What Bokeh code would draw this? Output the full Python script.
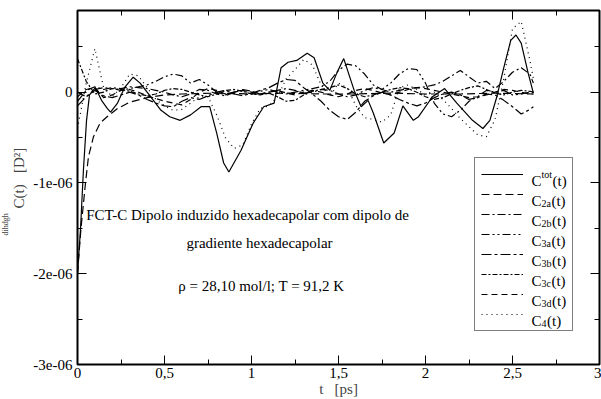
import numpy as np
from bokeh.plotting import figure
from bokeh.models import (Range1d, FixedTicker, LinearAxis, CustomJSTickFormatter,
                          Label, Legend, LegendItem, Title)
from bokeh.embed import file_html
from bokeh.resources import INLINE

# ---------------- data (values in units of 1e-6 D^2) ----------------
t_tot = [0.000, 0.017, 0.034, 0.052, 0.069, 0.103, 0.138, 0.172, 0.190, 0.230,
         0.270, 0.320, 0.360, 0.400, 0.480, 0.530, 0.590, 0.650, 0.710, 0.760,
         0.800, 0.840, 0.870, 0.940, 1.010, 1.070, 1.130, 1.170, 1.210, 1.260,
         1.320, 1.360, 1.410, 1.450, 1.490, 1.530, 1.590, 1.630, 1.670, 1.700,
         1.760, 1.820, 1.870, 1.930, 1.960, 2.040, 2.110, 2.180, 2.270, 2.330,
         2.370, 2.410, 2.450, 2.490, 2.520, 2.550, 2.590, 2.620]
c_tot = [-1.99, -1.52, -0.86, -0.31, -0.03, 0.05, -0.09, -0.18, -0.22, -0.12,
         0.05, 0.165, 0.10, 0.00, -0.20, -0.27, -0.31, -0.25, -0.16, -0.16,
         -0.45, -0.78, -0.88, -0.64, -0.34, -0.16, -0.12, 0.27, 0.33, 0.35,
         0.43, 0.38, 0.10, 0.02, 0.21, 0.37, 0.02, -0.16, -0.09, -0.23,
         -0.56, -0.45, -0.15, -0.31, -0.27, -0.05, 0.04, -0.12, -0.31, -0.40,
         -0.31, -0.05, 0.27, 0.57, 0.63, 0.54, 0.21, -0.01]

t_2a = [0.000, 0.020, 0.046, 0.063, 0.092, 0.130, 0.170, 0.230, 0.300, 0.400,
        0.500, 0.600, 0.800, 1.000, 1.200, 1.400, 1.600, 1.800, 2.000, 2.200,
        2.400, 2.620]
c_2a = [-2.00, -1.50, -1.00, -0.71, -0.49, -0.34, -0.27, -0.18, -0.11, -0.06,
        -0.03, -0.02, -0.01, -0.02, -0.01, -0.02, -0.02, -0.01, -0.02, -0.02,
        -0.01, -0.02]

t_grid = [0.00, 0.05, 0.10, 0.15, 0.20, 0.25, 0.30, 0.35, 0.40, 0.45,
          0.50, 0.55, 0.60, 0.65, 0.70, 0.75, 0.80, 0.85, 0.90, 0.95,
          1.00, 1.05, 1.10, 1.15, 1.20, 1.25, 1.30, 1.35, 1.40, 1.45,
          1.50, 1.55, 1.60, 1.65, 1.70, 1.75, 1.80, 1.85, 1.90, 1.95,
          2.00, 2.05, 2.10, 2.15, 2.20, 2.25, 2.30, 2.35, 2.40, 2.45,
          2.50, 2.55, 2.60, 2.62]
c_2b = [-0.10, 0.02, 0.06, 0.03, 0.05, 0.04, 0.06, 0.05, 0.04, 0.02,
        0.00, -0.03, -0.05, -0.02, 0.03, 0.02, -0.02, -0.04, 0.00, 0.03,
        0.01, -0.02, 0.00, 0.02, 0.04, 0.02, -0.01, 0.00, 0.03, 0.02,
        -0.02, -0.05, -0.03, 0.02, 0.05, 0.03, 0.00, 0.02, 0.04, 0.05,
        0.06, 0.08, 0.12, 0.18, 0.24, 0.17, 0.10, 0.12, 0.04, 0.12,
        0.22, 0.27, 0.20, 0.10]
c_3a = [0.00, -0.05, 0.03, 0.05, 0.04, 0.02, 0.04, 0.06, 0.08, 0.12,
        0.17, 0.20, 0.18, 0.10, 0.14, 0.08, 0.00, -0.03, 0.00, 0.02,
        -0.02, 0.01, 0.03, 0.00, -0.02, 0.00, 0.02, 0.04, 0.06, 0.12,
        0.24, 0.31, 0.29, 0.20, 0.08, 0.03, 0.10, 0.20, 0.26, 0.25,
        0.10, -0.12, -0.24, -0.27, -0.20, -0.10, -0.05, 0.02, 0.00, 0.02,
        -0.03, -0.02, 0.00, 0.00]
c_3b = [-0.15, -0.05, 0.02, -0.04, -0.06, -0.03, 0.00, -0.03, -0.08, -0.12,
        -0.15, -0.16, -0.10, -0.06, -0.08, -0.04, 0.00, 0.02, -0.02, -0.04,
        -0.01, 0.02, 0.05, 0.10, 0.14, 0.13, 0.05, -0.02, -0.10, -0.20,
        -0.27, -0.30, -0.22, -0.10, -0.04, 0.00, -0.03, -0.08, -0.12, -0.15,
        -0.12, -0.06, -0.02, 0.00, -0.03, -0.08, -0.06, -0.02, -0.03, -0.09,
        -0.16, -0.24, -0.19, -0.16]
c_3c = [0.37, 0.12, -0.02, 0.00, 0.04, 0.03, 0.01, -0.02, -0.04, -0.02,
        0.02, 0.04, 0.03, 0.00, -0.03, -0.05, -0.02, 0.02, 0.03, 0.01,
        -0.02, -0.03, -0.01, -0.05, -0.10, -0.09, -0.03, 0.01, 0.03, 0.05,
        0.08, 0.04, -0.02, -0.05, -0.03, 0.00, 0.03, 0.05, 0.04, 0.00,
        -0.05, -0.08, -0.06, -0.02, 0.02, 0.05, 0.07, 0.03, -0.01, -0.03,
        0.00, 0.02, 0.01, 0.00]
c_3d = [-0.05, 0.03, 0.05, -0.06, -0.03, 0.02, 0.03, 0.00, -0.04, -0.07,
        -0.10, -0.12, -0.14, -0.08, 0.00, 0.04, 0.02, -0.02, 0.00, 0.02,
        0.00, -0.02, 0.00, 0.02, -0.01, -0.03, 0.00, 0.02, 0.00, -0.03,
        -0.05, -0.02, 0.02, 0.04, 0.02, -0.01, -0.03, 0.00, 0.03, 0.05,
        0.04, 0.02, 0.00, -0.02, -0.04, -0.06, -0.05, -0.03, 0.00, 0.03,
        0.02, 0.00, -0.02, -0.02]
c_4 = [-0.40, 0.10, 0.48, 0.05, -0.05, 0.05, 0.20, 0.18, 0.05, -0.08,
       -0.15, -0.20, -0.19, -0.12, -0.05, -0.05, -0.25, -0.50, -0.62, -0.58,
       -0.35, -0.18, -0.15, -0.05, 0.15, 0.25, 0.36, 0.30, 0.08, -0.05,
       0.10, 0.05, -0.15, -0.28, -0.30, -0.33, -0.25, 0.05, 0.08, 0.03,
       -0.03, 0.00, -0.08, -0.18, -0.29, -0.38, -0.47, -0.49, -0.30, 0.15,
       0.70, 0.78, 0.35, 0.15]

x_ticks = [0, 0.5, 1, 1.5, 2, 2.5, 3]
x_minor = [0.25, 0.75, 1.25, 1.75, 2.25, 2.75]
y_ticks = [-3e-6, -2e-6, -1e-6, 0]
y_minor = [-2.5e-6, -1.5e-6, -0.5e-6, 0.5e-6]

SCALE = 1e-6
FONT = "Liberation Serif"

series = [
    ("tot", t_tot, c_tot, "solid"),
    ("2a", t_2a, c_2a, "8 4"),
    ("2b", t_grid, c_2b, "8 3 2 3"),
    ("3a", t_grid, c_3a, "8 3 2 3 2 3"),
    ("3b", t_grid, c_3b, "10 3 3 3"),
    ("3c", t_grid, c_3c, "5 2 2 2"),
    ("3d", t_grid, c_3d, "6 4"),
    ("4", t_grid, c_4, "1 4"),
]

# ---------------- figure ----------------
p = figure(width=601, height=399, output_backend="svg", toolbar_location=None,
           x_range=Range1d(0, 3), y_range=Range1d(-3e-6, 0.9e-6),
           min_border_left=77, min_border_right=2, min_border_top=10,
           min_border_bottom=34)
p.background_fill_color = "white"
p.border_fill_color = "white"
p.outline_line_color = "black"
p.outline_line_width = 2
p.xgrid.visible = False
p.ygrid.visible = False

xt = FixedTicker(ticks=x_ticks, minor_ticks=x_minor)
yt = FixedTicker(ticks=y_ticks, minor_ticks=y_minor)
xfmt = CustomJSTickFormatter(code="return tick.toString().replace('.', ',');")
yfmt = CustomJSTickFormatter(code="return tick == 0 ? '0' : tick.toExponential(0).replace('e-', 'e-0');")
blank = CustomJSTickFormatter(code="return '';")


def style_axis(ax, ticker, fmt, size="15px"):
    ax.ticker = ticker
    ax.formatter = fmt
    ax.axis_line_color = None
    ax.major_tick_in = 9
    ax.major_tick_out = 0
    ax.minor_tick_in = 5
    ax.minor_tick_out = 0
    ax.major_tick_line_color = "black"
    ax.minor_tick_line_color = "black"
    ax.major_tick_line_width = 1
    ax.minor_tick_line_width = 1
    ax.major_label_text_font = FONT
    ax.major_label_text_font_size = size
    ax.major_label_text_color = "black"


xa = p.xaxis[0]
style_axis(xa, xt, xfmt)
xa.major_label_standoff = 3
xa.axis_label = "t\u00a0\u00a0\u00a0[ps]"
xa.axis_label_text_font = FONT
xa.axis_label_text_font_size = "15px"
xa.axis_label_text_font_style = "normal"
xa.axis_label_standoff = 0

ya = p.yaxis[0]
style_axis(ya, yt, yfmt)
ya.major_label_standoff = 5

top = LinearAxis()
style_axis(top, xt, blank, "1px")
top.major_label_standoff = 0
right = LinearAxis()
style_axis(right, yt, blank, "1px")
right.major_label_standoff = 0
p.add_layout(top, "above")
p.add_layout(right, "right")

# y-axis title: "C(t) [D^2]" with the small "dihdgh" prefix below it
p.add_layout(Title(text="C(t)\u00a0\u00a0\u00a0[D\u00b2]", align="left", offset=156, standoff=8,
                   text_font=FONT, text_font_size="15px", text_font_style="normal"), "left")
p.add_layout(Title(text="dihdgh", align="left", offset=129, standoff=-10,
                   text_font=FONT, text_font_size="8px", text_font_style="normal"), "left")

items = []
for name, t, c, dash in series:
    r = p.line(t, np.array(c) * SCALE, line_color="black", line_width=1.2,
               line_dash=dash)
    items.append(LegendItem(label=" ", renderers=[r]))

legend = Legend(items=items, location=(397, 33), glyph_width=42, glyph_height=20,
                label_height=20, label_width=34, label_standoff=9, spacing=0,
                padding=6, margin=0, border_line_color="black",
                border_line_width=1.5, background_fill_alpha=0.0,
                label_text_font_size="4px")
p.add_layout(legend)


# helpers converting reference pixel positions to data positions (text placement)
def X(px):
    return (px - 77) / 174.0


def Y(py):
    return (92 - py) / 91.0 * SCALE


def txt(x, y, s, size="15px", align="left", baseline="alphabetic", angle=0):
    p.add_layout(Label(x=x, y=y, text=s, text_font=FONT, text_font_size=size,
                       text_align=align, text_baseline=baseline, angle=angle,
                       text_color="black", level="overlay"))


# in-plot annotation
txt(X(247), Y(215), "FCT-C Dipolo induzido hexadecapolar com dipolo de", align="center")
txt(X(259), Y(243), "gradiente hexadecapolar", align="center")
txt(X(261), Y(286), "\u03c1 = 28,10 mol/l; T = 91,2 K", align="center")

# legend labels
rows = [176, 196, 216, 236, 256, 276, 296, 316]
subs = ["2a", "2b", "3a", "3b", "3c", "3d", "4"]
sub_w = {"2a": 9.4, "2b": 10.0, "3a": 9.4, "3b": 10.0, "3c": 9.4, "3d": 10.0, "4": 5.0}
for i, ry in enumerate(rows):
    base = ry + 5
    txt(X(531), Y(base), "C")
    if i == 0:
        txt(X(541), Y(base - 6), "tot", size="10px")
        txt(X(552), Y(base), "(t)")
    else:
        s = subs[i - 1]
        txt(X(541), Y(base + 3), s, size="10px")
        txt(X(541 + sub_w[s] + 0.5), Y(base), "(t)")

open("out.html", "w").write(file_html(p, INLINE))
